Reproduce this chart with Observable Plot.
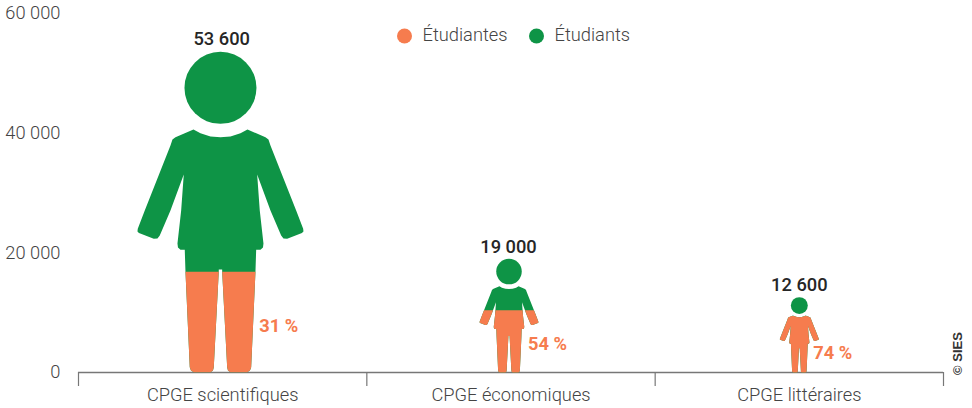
<!DOCTYPE html>
<html lang="fr">
<head>
<meta charset="utf-8">
<style>html,body{margin:0;padding:0;background:#fff}svg{display:block}</style>
<script src="https://cdn.jsdelivr.net/npm/d3@7"></script>
<script src="https://cdn.jsdelivr.net/npm/@observablehq/plot@0.6"></script>
</head>
<body>
<script>
const categories = ["CPGE scientifiques", "CPGE économiques", "CPGE littéraires"];
const totals = [53600, 19000, 12600];
const womenShares = [31, 54, 74];
const yTicks = [0, 20000, 40000, 60000];
const legendLabels = ["Étudiantes", "Étudiants"];
const source = "© SIES";

const GREEN = "#0e9446", ORANGE = "#f67c4e", DARK = "#262626", GREY = "#444", LINE = "#777";
const rows = categories.map((category, i) => ({category, pos: i + 0.5, total: totals[i], share: womenShares[i]}));
const fr = d3.formatLocale({thousands: " ", grouping: [3], decimal: ","}).format(",d");

// Silhouette: left half, in units where the whole figure is 320 tall and the head radius 36.
const REF_R = 36, REF_H = 320, CUT_H = 325, HEAD_H = 284;
const halfBody = [[0,235.3],[-10,236],[-20,239.3],[-27,243],[-45,235.3],[-48,233],[-50,227],[-75.7,162],[-82.7,143.7],[-83,141],[-81.5,139.5],
  [-66.7,133.7],[-63,134],[-60.7,137],[-50,162],[-36.7,198],[-39.3,162],[-43,129],[-42.5,125],[-40,122.7],[-35.7,122.7],
  [-35,101],[-30.7,5.3],[-29.5,2],[-26.7,0.3],[-10,0.3],[-7.5,2],[-6.7,5.3],[-1.7,101],[-1.7,103],[0,103]];
const body = halfBody.concat(halfBody.slice(1, -1).reverse().map(([x, h]) => [-x, h]));

function clipBelow(poly, c) {
  const out = [];
  poly.forEach((p, i) => {
    const q = poly[(i + 1) % poly.length];
    const pin = p[1] <= c, qin = q[1] <= c;
    if (pin) out.push(p);
    if (pin !== qin) {
      const t = (c - p[1]) / (q[1] - p[1]);
      out.push([p[0] + t * (q[0] - p[0]), c]);
    }
  });
  return out;
}
function figure(poly) {
  return {draw(ctx, size) {
    const s = Math.sqrt(size / Math.PI) / REF_R;
    poly.forEach(([x, h], i) => i ? ctx.lineTo(x * s, -h * s) : ctx.moveTo(x * s, -h * s));
    ctx.closePath();
  }};
}

const FS = 18.3;
// One figure: green silhouette, orange part up to the women's share, separate head, total above.
const person = (i, dx, labelDx, labelDy) => {
  const d = rows[i], base = {x: "pos", y: () => 0, r: "total", dx, stroke: "none"};
  return [
    Plot.dot([d], {...base, fill: GREEN, symbol: figure(body)}),
    Plot.dot([d], {...base, fill: ORANGE, symbol: figure(clipBelow(body, CUT_H * d.share / 100))}),
    Plot.dot([d], {x: "pos", y: v => v.total * HEAD_H / REF_H, r: "total", dx, fill: GREEN, stroke: "none"}),
    Plot.text([d], {x: "pos", y: "total", dx: labelDx, dy: labelDy, text: v => fr(v.total), fill: DARK, fontSize: FS, fontWeight: 500})
  ];
};
const pctLabel = (i, dx, dy) => Plot.text([rows[i]], {x: "pos", y: () => 0, dx, dy, text: d => d.share + " %",
  fill: ORANGE, fontSize: FS, fontWeight: 700});

const legendDot = (i, dx) => Plot.dot([legendLabels[i]], {frameAnchor: "top-left", dx, dy: 22.5, r: 7.5, fill: i ? GREEN : ORANGE});
const legendText = (i, dx) => Plot.text([legendLabels[i]], {frameAnchor: "top-left", dx, dy: 21.5, text: d => d,
  textAnchor: "start", lineAnchor: "middle", fill: GREY, fontSize: FS, fontWeight: 300});

const chart = Plot.plot({
  width: 972, height: 408,
  marginLeft: 78, marginRight: 29, marginTop: 13, marginBottom: 36,
  style: {fontFamily: "Roboto, sans-serif", background: "#fff", overflow: "visible"},
  x: {type: "linear", domain: [0, 3], axis: null},
  y: {domain: [0, 60000], axis: null},
  r: {type: "linear", domain: [0, 53600], range: [0, 36]},
  marks: [
    Plot.axisY({ticks: yTicks, tickSize: 0, tickPadding: 18, tickFormat: fr, label: null,
      fontSize: FS, fontWeight: 300, color: GREY}),
    Plot.axisX({ticks: [0, 1, 2, 3], tickSize: 14, tickFormat: () => "", label: null, stroke: LINE, strokeWidth: 1.2}),
    Plot.axisX({ticks: rows.map(d => d.pos), tickSize: 0, tickPadding: 15, tickFormat: p => categories[p - 0.5], label: null,
      fontSize: FS, fontWeight: 300, color: GREY}),
    Plot.ruleY([0], {stroke: LINE, strokeWidth: 1.5}),
    ...person(0, -2.2, -1, -13),
    ...person(1, -2, -2.5, -12),
    ...person(2, 0, 0, -12),
    pctLabel(0, 56, -46),
    pctLabel(1, 36.5, -28),
    pctLabel(2, 33.5, -19),
    legendDot(0, 326), legendText(0, 344),
    legendDot(1, 458), legendText(1, 476),
    Plot.text([source], {frameAnchor: "top-left", dx: 879, dy: 340, rotate: -90, text: d => d,
      textAnchor: "middle", lineAnchor: "middle",
      fontFamily: "Liberation Sans, sans-serif", fontSize: 13, fontWeight: 700, fill: "#333"})
  ]
});
document.body.appendChild(chart);
</script>
</body>
</html>
